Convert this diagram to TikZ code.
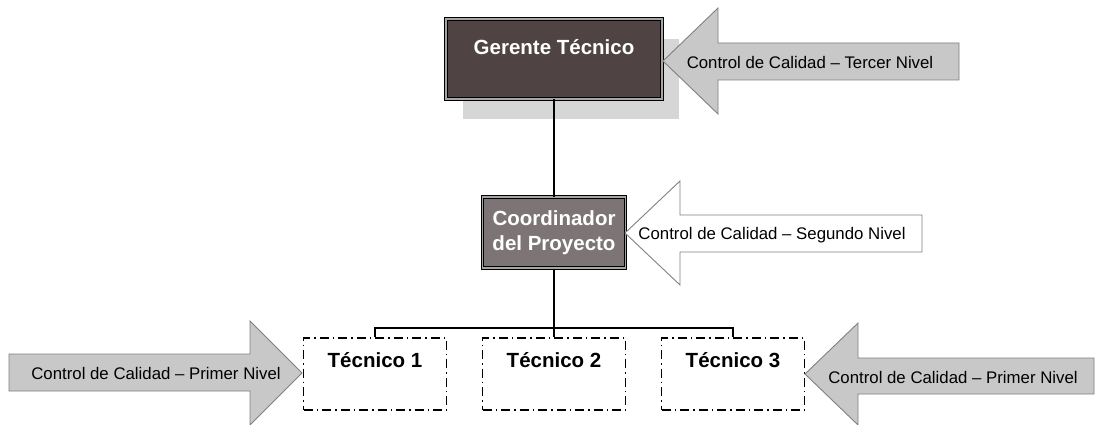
\documentclass[tikz,border=0pt]{standalone}
\usepackage{fontspec}
\setmainfont{Liberation Sans}
\usetikzlibrary{positioning,shadows}
\definecolor{gerfill}{HTML}{4F4343}
\definecolor{coorfill}{HTML}{7D7575}
\definecolor{arrfill}{HTML}{C8C8C8}
\definecolor{arrline}{HTML}{808080}
\definecolor{sombra}{HTML}{D6D6D6}

\begin{document}
\begin{tikzpicture}[x=1pt,y=-1pt,
  lbl/.style={font=\fontsize{16.8}{20}\selectfont,inner sep=0pt},
  boxtxt/.style={font=\fontsize{20.5}{25}\selectfont\bfseries,inner sep=0pt},
  arr/.style={draw=arrline,fill=arrfill,line width=0.9pt},
  tecbox/.style={draw,line width=1.5pt,dash pattern=on 9pt off 4pt on 1.5pt off 4pt,minimum width=143pt,minimum height=72pt,inner sep=0pt},
  jefe/.style={draw=black,double=gray!70,double distance=1.4pt,line width=1pt,inner sep=0pt}]
\useasboundingbox (0,0) rectangle (1095,425);
\node[jefe,fill=gerfill,minimum width=216pt,minimum height=80pt,
  drop shadow={shadow xshift=17pt,shadow yshift=-20pt,fill=sombra,opacity=1}] (gerente) at (554,59) {};
\node[boxtxt,text=white,below=21pt of gerente.north] (gerentetxt) {Gerente Técnico};
\node[jefe,fill=coorfill,minimum width=143pt,minimum height=71pt,boxtxt,text=white,align=center] (coord) at (554,232.5) {Coordinador\\del Proyecto};
\foreach \i/\x in {1/375,2/554,3/733}{
\node[tecbox] (tec\i) at (\x,374) {};
\node[boxtxt,below=15pt of tec\i.north] (tectxt\i) {Técnico \i};
}
\draw[line width=1.8pt] (gerente.south) -- (coord.north);
\draw[line width=1.8pt] (coord.south) -- (tec2.north);
\draw[line width=1.8pt] (tec1.north) -- ++(0,-9) -| (tec3.north);
% flechas de control
\draw[arr] (663,61) -- (718,8) -- (718,43) -- (959,43) -- (959,80) -- (718,80) -- (718,114) -- cycle;
\node[lbl] (tercer) at (810,62) {Control de Calidad -- Tercer Nivel};
\draw[arr,fill=white,draw=gray] (625,233) -- (680,181) -- (680,215) -- (922,215) -- (922,252) -- (680,252) -- (680,285) -- cycle;
\node[lbl] (segundo) at (772,235) {Control de Calidad -- Segundo Nivel};
\draw[arr] (302,373) -- (250,321) -- (250,354) -- (9,354) -- (9,391) -- (250,391) -- (250,425) -- cycle;
\node[lbl] (primerA) at (156,373) {Control de Calidad -- Primer Nivel};
\draw[arr] (805,374) -- (858,323) -- (858,358) -- (1094,358) -- (1094,394) -- (858,394) -- (858,425) -- cycle;
\node[lbl] (primerB) at (953,377) {Control de Calidad -- Primer Nivel};
\end{tikzpicture}
\end{document}
